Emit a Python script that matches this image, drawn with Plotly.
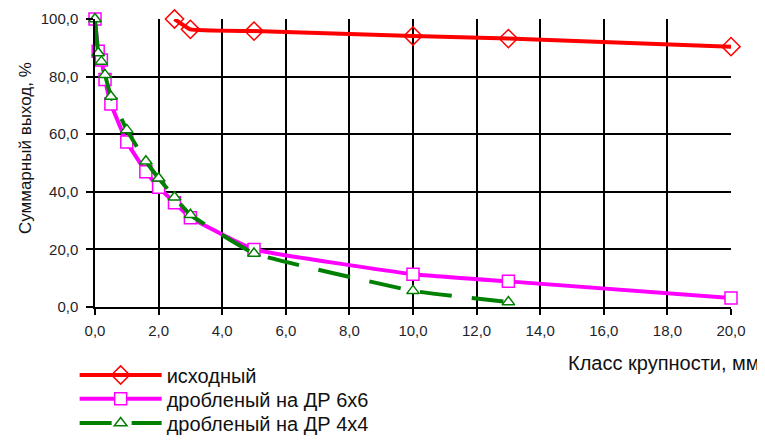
import plotly.graph_objects as go

# ---- data ----
x_init = [2.5, 3, 5, 10, 13, 20]
y_init = [100.0, 96.4, 95.8, 94.1, 93.2, 90.4]

x_66 = [0, 0.1, 0.2, 0.315, 0.5, 1, 1.6, 2, 2.5, 3, 5, 10, 13, 20]
y_66 = [100.0, 88.8, 85.8, 79.0, 70.5, 57.3, 47.0, 41.6, 36.2, 31.0, 20.0, 11.4, 8.9, 3.1]

x_44 = [0, 0.1, 0.2, 0.315, 0.5, 1, 1.6, 2, 2.5, 3, 5, 10, 13]
y_44 = [100.0, 88.2, 85.2, 80.6, 73.1, 61.5, 50.6, 44.7, 38.1, 32.0, 18.6, 5.6, 1.7]

names = ["исходный", "дробленый на ДР 6х6", "дробленый на ДР 4х4"]
x_ticks = [0, 2, 4, 6, 8, 10, 12, 14, 16, 18, 20]
y_ticks = [0, 20, 40, 60, 80, 100]

FONT = "Liberation Sans, Arial, sans-serif"

fig = go.Figure()
fig.add_trace(go.Scatter(
    x=x_init, y=y_init, name=names[0], mode="lines+markers",
    line=dict(color="#ff0000", width=4, shape="spline", smoothing=0.3),
    marker=dict(symbol="diamond-open", size=14, color="#ff0000", line=dict(width=1.5)),
    cliponaxis=False, legend="legend", showlegend=True))
fig.add_trace(go.Scatter(
    x=x_66, y=y_66, name=names[1], mode="lines+markers",
    line=dict(color="#ff00ff", width=4, shape="spline", smoothing=0.3),
    marker=dict(symbol="square", size=12, color="white", line=dict(color="#ff00ff", width=1.5)),
    cliponaxis=False, legend="legend2", showlegend=True))
fig.add_trace(go.Scatter(
    x=x_44, y=y_44, name=names[2], mode="lines+markers",
    line=dict(color="#008000", width=4, shape="spline", smoothing=0.3, dash="32px,20px"),
    marker=dict(symbol="triangle-up", size=11, color="white", line=dict(color="#008000", width=1.5)),
    cliponaxis=False, legend="legend3", showlegend=True))

axis_font = dict(family=FONT, size=15, color="#1f1f2a")
fig.update_xaxes(range=[0, 20], tickvals=x_ticks, tickformat=".1f",
                 showgrid=True, gridcolor="black", gridwidth=1.5,
                 showline=True, linecolor="black", linewidth=1.5,
                 ticks="outside", ticklen=6, tickcolor="black", tickwidth=1.5,
                 ticklabelstandoff=3, automargin=False,
                 tickfont=axis_font, zeroline=False)
fig.update_yaxes(range=[0, 100], tickvals=y_ticks, tickformat=".1f",
                 showgrid=True, gridcolor="black", gridwidth=1.5,
                 showline=True, linecolor="black", linewidth=1.5,
                 ticks="outside", ticklen=7, tickcolor="black", tickwidth=1.5,
                 ticklabelstandoff=5, automargin=False,
                 tickfont=axis_font, zeroline=False)

fig.add_annotation(text="Суммарный выход, %", xref="paper", yref="paper",
                   x=-0.110, y=0.552, xanchor="center", yanchor="middle",
                   textangle=-90, showarrow=False,
                   font=dict(family=FONT, size=17, color="#111111"))

fig.add_annotation(text="Класс крупности, мм", xref="paper", yref="paper",
                   x=1.0487, y=-0.194, xanchor="right", yanchor="middle", showarrow=False,
                   font=dict(family=FONT, size=20, color="#111111"))

leg_common = dict(x=-0.032, xanchor="left", yanchor="middle",
                  font=dict(family=FONT, size=20, color="#111111"),
                  itemwidth=82, bgcolor="rgba(0,0,0,0)")

fig.update_layout(
    width=757, height=433,
    margin=dict(l=87, r=34, t=11, b=134, autoexpand=False),
    separators=", ",
    showlegend=True,
    plot_bgcolor="white", paper_bgcolor="white",
    legend=dict(y=-0.236, **leg_common),
    legend2=dict(y=-0.319, **leg_common),
    legend3=dict(y=-0.403, **leg_common),
)

fig.write_html("out.html")
